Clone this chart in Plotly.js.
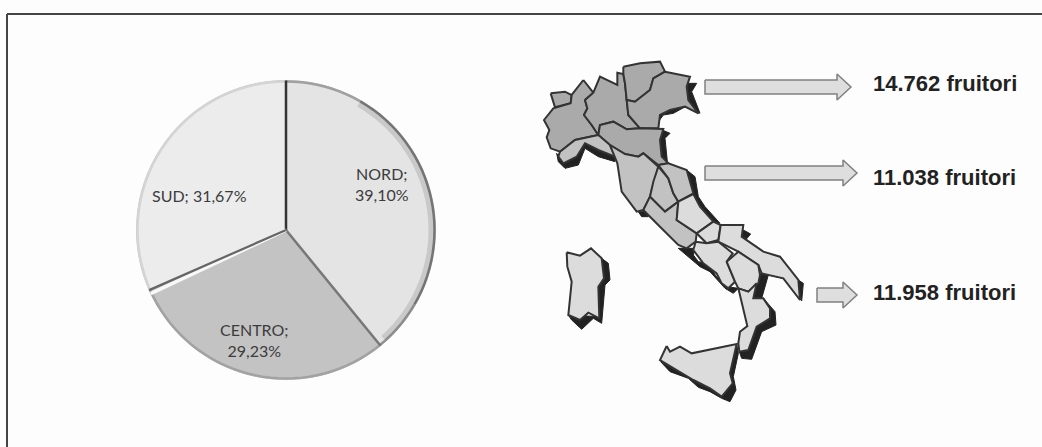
<!DOCTYPE html>
<html><head><meta charset="utf-8">
<script src="https://cdn.plot.ly/plotly-3.0.1.min.js"></script>
<style>html,body{margin:0;padding:0;background:#fff}#c{width:1042px;height:447px}</style>
</head><body><div id="c"></div>
<script>
const categories=['NORD','CENTRO','SUD'];
const shares=[39.10,29.23,31.67];
const shareLabels=['NORD;<br>39,10%','CENTRO;<br>29,23%','SUD; 31,67%'];
const users=['14.762 fruitori','11.038 fruitori','11.958 fruitori'];

const regions={
 aosta:[[62,130],[105,125],[125,135],[122,160],[75,172]],
 piemonte:[[160,90],[190,128],[165,150],[172,175],[162,195],[185,225],[205,255],[180,260],[135,270],[90,305],[62,295],[50,262],[58,240],[42,210],[70,175],[122,160],[125,135]],
 lombardia:[[165,150],[190,128],[210,80],[262,105],[262,68],[280,72],[285,100],[290,150],[295,195],[330,235],[290,238],[250,215],[210,225],[205,255],[185,225],[162,195],[172,175]],
 trentino:[[280,50],[330,40],[390,35],[405,65],[370,85],[360,120],[315,155],[290,150],[285,100],[280,72]],
 veneto:[[405,65],[480,80],[470,110],[475,150],[505,190],[465,170],[420,180],[390,195],[385,235],[330,235],[295,195],[290,150],[315,155],[360,120],[370,85]],
 emilia:[[205,255],[210,225],[250,215],[290,238],[330,235],[400,237],[390,270],[395,320],[415,340],[385,345],[340,310],[325,320],[285,312],[240,285]]
};
const centre={
 liguria:[[90,305],[135,270],[180,260],[205,255],[240,285],[255,320],[205,300],[165,280],[140,320],[100,340],[85,320]],
 toscana:[[240,285],[285,312],[325,320],[340,310],[385,350],[380,370],[365,420],[360,440],[340,480],[320,485],[275,425],[262,340]],
 umbria:[[385,350],[415,385],[430,430],[445,455],[405,485],[360,440],[370,395]],
 marche:[[385,345],[415,340],[470,360],[490,430],[445,455],[430,430],[415,385]],
 lazio:[[360,440],[405,485],[445,455],[440,510],[500,550],[497,575],[470,595],[445,585],[390,530],[340,480]]
};
const south={
 abruzzo:[[490,432],[510,470],[550,515],[500,550],[440,510],[445,455]],
 molise:[[550,515],[572,525],[565,570],[530,580],[500,550]],
 campania:[[497,575],[530,580],[565,575],[608,610],[590,635],[615,695],[595,715],[575,700],[560,670],[520,640],[490,600]],
 puglia:[[572,525],[640,525],[635,560],[700,605],[750,620],[805,690],[810,750],[760,685],[695,670],[685,645],[625,605],[565,575]],
 basilicata:[[590,635],[625,605],[685,645],[690,675],[685,700],[655,725],[625,715],[615,695]],
 calabria:[[625,715],[655,725],[680,700],[670,745],[700,745],[720,775],[720,805],[680,830],[655,900],[628,905],[625,880],[630,845],[652,828]],
 sicilia:[[410,888],[420,905],[450,890],[485,910],[620,882],[600,970],[608,1000],[575,1040],[540,1015],[490,990],[390,930]],
 sardegna:[[110,607],[150,617],[183,595],[215,625],[222,685],[205,710],[208,805],[175,788],[150,810],[115,795],[125,695],[112,650]]
};
const shadows=[
 [[215,625],[235,640],[240,690],[225,705],[215,820],[190,805],[155,838],[125,810],[115,795],[208,800],[205,700]],
 [[620,882],[625,910],[610,980],[618,1020],[600,1055],[575,1045],[540,1025],[505,1012],[475,985],[420,965],[392,935],[490,990],[575,1030],[600,970]],
 [[700,745],[735,785],[738,825],[695,845],[665,928],[635,925],[628,905],[655,900],[680,830],[720,805],[720,775]],
 [[805,690],[820,700],[815,753],[790,710],[760,685],[715,675],[695,745],[670,745],[680,700],[690,670],[760,680]],
 [[625,550],[640,540],[662,552],[645,572],[625,562]],
 [[445,595],[495,595],[490,615],[505,635],[530,640],[560,680],[590,710],[625,715],[610,730],[585,715],[540,665],[510,650]],
 [[325,485],[345,485],[355,500],[335,500]],
 [[470,360],[495,380],[505,440],[525,470],[570,520],[550,515],[510,470],[490,432]],
 [[385,235],[420,250],[405,265],[412,335],[395,320],[390,270]],
 [[470,100],[500,100],[485,125],[510,190],[475,165],[430,190],[400,195],[385,215],[390,195],[420,180],[465,170],[505,190],[475,150]],
 [[80,310],[100,340],[140,320],[165,280],[205,300],[255,320],[255,335],[205,320],[165,295],[145,345],[105,355],[85,335]]
];
const X0=530,Y0=50,S=3;
const px=x=>(x-X0)*S, py=y=>(y-Y0)*S;
function arrow(x0,x1,xh,yc,h,w){return [[x0,yc-h],[xh,yc-h],[xh,yc-w],[x1,yc],[xh,yc+w],[xh,yc+h],[x0,yc+h]].map(p=>[px(p[0]),py(p[1])]);}
const arrowShapes=[arrow(705,851,837,87,7,13),arrow(705,857,843,173,7,13),arrow(817,857,843,295,7,13)];
function poly(pts,fill,lc,lw){const c=pts.concat([pts[0]]);return {type:'scatter',mode:'lines',x:c.map(p=>p[0]),y:c.map(p=>p[1]),fill:'toself',fillcolor:fill,line:{color:lc,width:lw},hoverinfo:'skip',showlegend:false,xaxis:'x',yaxis:'y'};}

const cx=286,cy=230,R=149.5;
const traces=[{type:'pie',values:shares,labels:categories,text:shareLabels,textinfo:'text',textposition:'none',sort:false,direction:'clockwise',rotation:0,
 marker:{colors:['#e4e4e4','#c3c3c3','#ececec'],line:{color:'#c8c8c8',width:1}},
 domain:{x:[(cx-R)/1042,(cx+R)/1042],y:[1-(cy+R)/447,1-(cy-R)/447]},showlegend:false,hoverinfo:'label+percent'}];
shadows.forEach(p=>traces.push(poly(p,'#222222','#222222',1)));
[[regions,'#aaaaaa'],[centre,'#c2c2c2'],[south,'#dcdcdc']].forEach(([g,f])=>Object.values(g).forEach(p=>traces.push(poly(p,f,'#333333',2))));
arrowShapes.forEach(p=>traces.push(poly(p,'#dedede','#808080',1.5)));

function edge(deg,color,w){const a=deg*Math.PI/180;return {type:'line',xref:'x',yref:'y',x0:px(cx),y0:py(cy),x1:px(cx+R*Math.sin(a)),y1:py(cy-R*Math.cos(a)),line:{color,width:w}};}
function rim(a0,a1,color,w,r){let d='';for(let a=a0;a<=a1;a+=3){const t=a*Math.PI/180;d+=(d?'L':'M')+px(cx+r*Math.sin(t))+' '+py(cy-r*Math.cos(t));}return {type:'path',xref:'x',yref:'y',path:d,line:{color,width:w}};}
const a1=shares[0]*3.6,a2=(shares[0]+shares[1])*3.6;
const shapes=[
 {type:'line',xref:'paper',yref:'paper',x0:7/1042,x1:1,y0:1-14/447,y1:1-14/447,line:{color:'#454545',width:2}},
 {type:'line',xref:'paper',yref:'paper',x0:7/1042,x1:7/1042,y0:1-14/447,y1:0,line:{color:'#454545',width:2}},
 rim(0,30,'#a0a0a0',2.5,R-1),rim(30,120,'#757575',2.5,R-1),rim(120,141,'#909090',2.5,R-1),rim(141,246,'#a2a2a2',2.5,R-1),rim(246,360,'#d4d4d4',2.5,R-1),
 rim(30,140,'rgba(120,120,120,0.25)',6,R-4),
 edge(0,'#333333',2.5),edge(a1,'#777777',2.5),edge(a2-1.2,'#f8f8f8',3.5),edge(a2+0.3,'#666666',2.2)
];
const annots=[
 ...[[382,184],[254,340],[199,195]].map((p,i)=>({x:px(p[0]),y:py(p[1]),text:shareLabels[i],showarrow:false,font:{family:'Lato',size:16,color:'#3c3c3c'},align:'center'})),
 ...[83,177,292].map((y,i)=>({x:px(873),y:py(y),xanchor:'left',xshift:-2,text:'<b>'+users[i]+'</b>',showarrow:false,font:{family:'Liberation Sans',size:22,color:'#222222'}}))
];
Plotly.newPlot('c',traces,{width:1042,height:447,margin:{l:0,r:0,t:0,b:0},paper_bgcolor:'#fdfdfd',plot_bgcolor:'rgba(0,0,0,0)',
 xaxis:{range:[px(0),px(1042)],visible:false,fixedrange:true},yaxis:{range:[py(447),py(0)],visible:false,fixedrange:true},
 shapes,annotations:annots,showlegend:false},{displayModeBar:false,staticPlot:true});
</script></body></html>
